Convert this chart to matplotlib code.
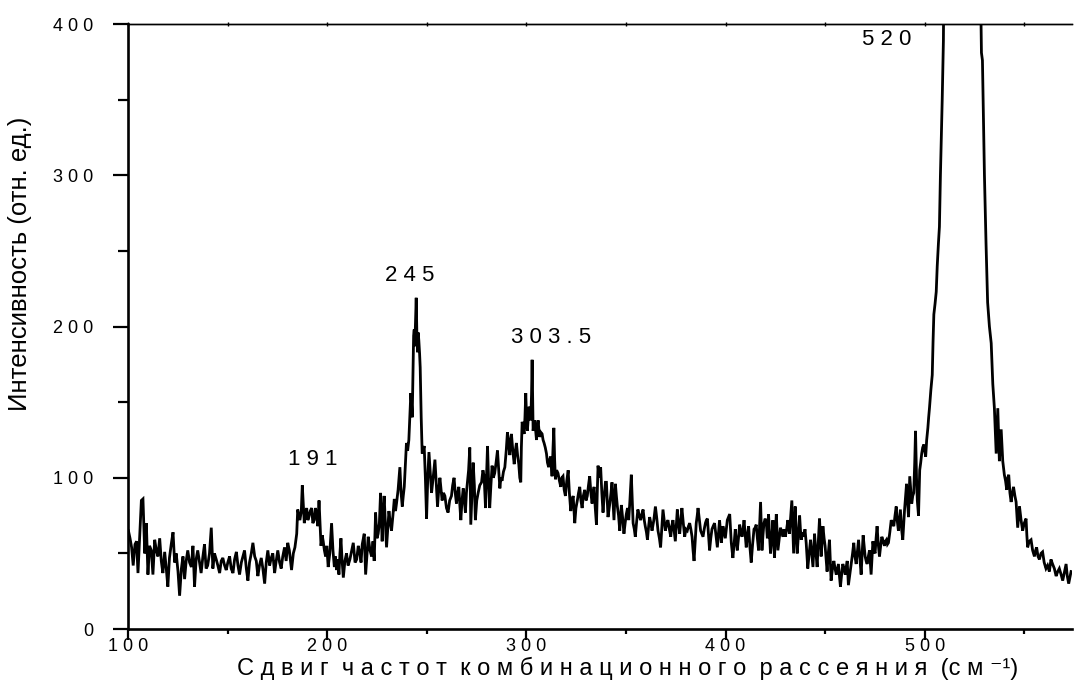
import matplotlib
matplotlib.use("Agg")
import matplotlib.pyplot as plt
from matplotlib.ticker import MultipleLocator, FuncFormatter, NullFormatter

# Raman shift (cm^-1) and intensity
shift = [
    100.2, 101.0, 101.8, 102.6, 103.5, 104.3, 105.0, 105.8, 106.7, 107.5,
    108.4, 109.2, 110.0, 110.8, 111.7, 112.5, 113.4, 114.2, 115.0, 115.9,
    116.7, 117.5, 118.4, 119.2, 120.0, 120.8, 121.7, 122.6, 123.4, 124.2,
    125.1, 125.9, 126.8, 127.6, 128.4, 129.2, 130.0, 130.9, 131.8, 132.6,
    133.4, 134.2, 135.0, 135.9, 136.7, 137.6, 138.4, 139.2, 140.0, 140.9,
    141.8, 142.6, 143.4, 144.3, 145.1, 146.0, 146.8, 147.6, 148.5, 149.3,
    150.1, 151.0, 151.8, 152.7, 153.5, 154.4, 155.2, 156.0, 156.9, 157.7,
    158.5, 159.4, 160.2, 161.0, 161.9, 162.7, 163.6, 164.4, 165.2, 166.0,
    166.9, 167.7, 168.6, 169.4, 170.2, 171.1, 171.9, 172.7, 173.6, 174.4,
    175.2, 176.1, 176.9, 177.7, 178.6, 179.4, 180.2, 181.0, 182.1, 183.0,
    183.8, 184.7, 185.2, 186.3, 187.0, 187.5, 188.5, 189.1, 189.7, 190.3,
    190.8, 191.5, 192.2, 192.8, 193.5, 194.1, 194.7, 195.3, 195.9, 196.4,
    196.9, 197.5, 198.0, 198.6, 199.2, 199.8, 200.5, 201.3, 202.2, 202.9,
    203.6, 204.1, 204.7, 205.3, 205.9, 206.4, 206.9, 207.5, 208.1, 208.9,
    209.7, 210.5, 211.4, 212.3, 213.1, 214.0, 214.8, 215.6, 216.4, 217.0,
    217.6, 218.6, 219.3, 220.0, 220.6, 221.5, 222.3, 223.0, 223.6, 224.3,
    225.0, 225.6, 226.2, 226.8, 227.6, 228.0, 228.6, 229.2, 229.8, 230.4,
    231.0, 231.7, 232.3, 233.0, 233.7, 234.3, 234.8, 235.6, 236.5, 237.1,
    237.7, 238.2, 238.7, 239.3, 239.8, 240.4, 241.0, 241.5, 242.0, 242.4,
    242.7, 243.1, 243.4, 243.7, 244.0, 244.4, 244.7, 245.1, 245.4, 245.7,
    246.0, 246.4, 246.7, 247.2, 247.7, 248.2, 248.7, 249.3, 249.9, 250.5,
    251.1, 251.7, 252.4, 253.2, 254.1, 254.8, 255.4, 256.0, 256.6, 257.2,
    257.7, 258.4, 259.1, 259.9, 260.7, 261.5, 262.4, 263.0, 263.7, 264.3,
    264.9, 265.5, 266.1, 266.6, 267.1, 267.7, 268.3, 268.9, 269.4, 269.9,
    270.4, 271.0, 271.6, 272.1, 272.7, 273.3, 273.9, 274.4, 275.1, 275.8,
    276.6, 277.5, 278.2, 278.8, 279.5, 280.0, 280.5, 281.0, 281.6, 282.2,
    282.8, 283.4, 284.1, 284.8, 285.5, 286.1, 286.7, 287.2, 287.8, 288.5,
    289.2, 289.9, 290.5, 291.1, 291.7, 292.1, 292.5, 293.2, 293.9, 294.5,
    295.0, 295.6, 296.2, 296.7, 297.2, 297.5, 297.9, 298.4, 298.9, 299.3,
    299.7, 300.1, 300.5, 301.0, 301.4, 301.8, 302.2, 302.6, 302.9, 303.2,
    303.4, 303.8, 304.2, 304.6, 305.1, 305.5, 305.9, 306.3, 306.7, 307.3,
    307.9, 308.4, 308.9, 309.5, 310.1, 310.6, 311.2, 311.7, 312.2, 312.9,
    313.4, 313.8, 314.2, 314.6, 315.2, 315.9, 316.6, 317.3, 317.8, 318.4,
    319.0, 319.6, 320.3, 321.0, 321.6, 322.3, 322.9, 323.5, 324.3, 324.9,
    325.6, 326.2, 326.8, 327.4, 328.0, 328.6, 329.3, 330.0, 330.6, 331.2,
    331.8, 332.4, 333.0, 333.5, 334.0, 334.6, 335.2, 335.6, 336.0, 336.6,
    337.3, 337.9, 338.5, 339.1, 339.7, 340.2, 341.0, 341.9, 342.5, 343.0,
    343.5, 344.0, 344.7, 345.2, 345.7, 346.3, 346.9, 347.7, 348.3, 349.0,
    349.6, 350.2, 350.8, 351.4, 352.0, 352.7, 353.2, 353.6, 354.2, 354.7,
    355.3, 356.0, 356.7, 357.4, 358.0, 358.6, 359.2, 359.7, 360.3, 360.8,
    361.4, 361.9, 362.5, 363.1, 364.0, 364.8, 365.5, 366.1, 366.8, 367.4,
    368.0, 368.6, 369.2, 369.8, 370.5, 371.1, 371.8, 372.5, 373.0, 373.6,
    374.2, 374.8, 375.3, 375.8, 376.4, 377.0, 377.6, 378.1, 378.8, 379.5,
    380.1, 380.8, 381.4, 382.0, 382.6, 383.2, 383.7, 384.2, 384.8, 385.3,
    385.8, 386.2, 386.9, 387.5, 388.1, 388.7, 389.3, 389.9, 390.4, 390.9,
    391.5, 392.0, 392.6, 393.2, 393.8, 394.5, 395.2, 395.9, 396.5, 397.0,
    397.5, 397.9, 398.3, 398.7, 399.3, 399.9, 400.4, 400.9, 401.5, 402.1,
    402.5, 402.9, 403.3, 403.7, 404.3, 404.9, 405.4, 405.9, 406.5, 407.1,
    407.7, 408.3, 408.8, 409.3, 409.9, 410.4, 411.0, 411.6, 412.2, 412.9,
    413.6, 414.3, 414.9, 415.4, 416.0, 416.6, 417.1, 417.6, 418.0, 418.3,
    418.8, 419.3, 419.9, 420.5, 421.0, 421.6, 422.1, 422.6, 423.2, 423.8,
    424.2, 424.6, 425.0, 425.5, 425.9, 426.3, 427.0, 427.6, 428.2, 428.8,
    429.4, 430.0, 430.7, 431.3, 431.7, 432.1, 432.7, 433.3, 433.8, 434.2,
    434.6, 435.0, 435.5, 436.0, 436.6, 437.2, 437.6, 438.0, 438.7, 439.3,
    439.9, 440.5, 440.9, 441.3, 442.0, 442.7, 443.3, 443.9, 444.3, 444.7,
    445.3, 446.0, 446.6, 447.2, 447.6, 448.0, 448.5, 448.9, 449.5, 450.0,
    450.5, 451.0, 451.6, 452.2, 452.6, 453.0, 453.7, 454.4, 455.0, 455.6,
    456.2, 456.7, 457.2, 457.7, 458.3, 458.9, 459.5, 460.1, 460.6, 461.1,
    461.7, 462.4, 463.1, 463.8, 464.4, 465.0, 465.6, 466.2, 466.8, 467.5,
    468.1, 468.6, 469.1, 469.6, 470.1, 470.6, 471.1, 471.7, 472.3, 472.7,
    473.1, 473.6, 474.0, 474.6, 475.1, 475.6, 476.1, 476.7, 477.3, 477.9,
    478.5, 479.2, 479.8, 480.3, 480.8, 481.3, 481.8, 482.5, 483.2, 483.8,
    484.5, 485.1, 485.7, 486.2, 486.8, 487.3, 487.8, 488.4, 489.0, 489.5,
    489.9, 490.4, 490.9, 491.4, 491.9, 492.2, 492.5, 493.0, 493.5, 494.0,
    494.5, 495.0, 495.4, 495.9, 496.3, 496.9, 497.5, 498.0, 498.5, 499.0,
    499.6, 500.0, 500.5, 501.0, 501.6, 502.0, 502.4, 503.1, 503.8, 504.2,
    504.6, 505.2, 505.8, 506.3, 506.9, 507.4, 507.9, 508.3, 508.8, 509.4,
    510.5, 512.0, 514.0, 516.0, 518.0, 519.5, 521.0, 523.0, 525.0, 527.0,
    528.3, 528.5, 529.0, 529.5, 530.0, 530.8, 531.6, 532.5, 533.4, 534.2,
    535.0, 535.9, 536.7, 537.5, 538.4, 539.2, 540.0, 540.6, 541.2, 541.7,
    542.2, 542.8, 543.4, 544.0, 544.6, 545.3, 545.9, 546.3, 546.7, 547.2,
    547.6, 548.4, 549.2, 550.0, 550.9, 551.3, 551.7, 552.5, 553.4, 554.2,
    555.1, 555.7, 556.2, 556.9, 557.6, 558.4, 559.2, 560.0, 560.9, 561.7,
    562.6, 563.4, 564.2, 565.1, 566.0, 566.8, 567.6, 568.5, 569.3, 570.2,
    571.0, 571.6, 572.3, 572.9, 573.5,
]

intensity = [
    65, 60, 54, 42, 56, 58, 37, 60, 85, 86,
    50, 70, 36, 55, 52, 36, 59, 52, 48, 60,
    45, 37, 51, 40, 28, 47, 56, 64, 44, 50,
    38, 22, 40, 48, 33, 45, 52, 44, 41, 55,
    28, 46, 52, 44, 37, 48, 56, 40, 42, 50,
    67, 40, 50, 46, 42, 37, 45, 47, 42, 39,
    44, 48, 40, 37, 46, 51, 42, 36, 44, 48,
    52, 40, 32, 44, 50, 57, 48, 45, 35, 42,
    47, 40, 30, 44, 52, 42, 47, 50, 37, 45,
    52, 44, 40, 48, 54, 45, 57, 52, 39, 50,
    54, 63, 79, 72, 78, 95, 70, 76, 80, 72,
    74, 78, 80, 70, 72, 80, 76, 68, 85, 70,
    55, 62, 58, 52, 48, 55, 41, 50, 70, 52,
    41, 48, 39, 46, 36, 50, 60, 45, 34, 45,
    50, 42, 46, 52, 57, 44, 46, 55, 50, 44,
    56, 63, 36, 50, 61, 52, 48, 58, 45, 77,
    60, 63, 70, 90, 58, 75, 88, 70, 54, 66,
    78, 70, 65, 75, 86, 78, 83, 92, 107, 90,
    81, 88, 94, 110, 123, 118, 125, 140, 156, 148,
    140, 170, 194, 198, 187, 205, 219, 190, 183, 196,
    191, 182, 173, 140, 116, 118, 121, 100, 73, 100,
    117, 105, 90, 100, 112, 95, 81, 92, 100, 92,
    85, 90, 88, 80, 77, 85, 88, 95, 100, 90,
    83, 90, 94, 82, 72, 85, 93, 84, 77, 90,
    97, 105, 120, 69, 90, 110, 95, 72, 85, 90,
    95, 97, 105, 101, 80, 100, 121, 100, 80, 95,
    108, 100, 103, 110, 118, 105, 93, 100, 98, 104,
    107, 118, 130, 122, 115, 125, 129, 118, 109, 118,
    123, 115, 109, 100, 97, 120, 137, 132, 129, 140,
    156, 140, 131, 140, 147, 142, 138, 155, 178, 150,
    131, 136, 138, 132, 125, 133, 138, 132, 127, 130,
    129, 125, 123, 120, 116, 110, 107, 112, 114, 101,
    120, 133, 112, 99, 105, 103, 98, 94, 100, 101,
    92, 88, 98, 105, 90, 78, 85, 88, 70, 80,
    85, 90, 94, 85, 80, 88, 92, 85, 88, 95,
    101, 90, 83, 90, 94, 80, 69, 90, 108, 100,
    107, 90, 77, 88, 97, 97, 74, 83, 90, 97,
    85, 72, 96, 88, 81, 75, 65, 82, 74, 63,
    70, 76, 80, 72, 85, 102, 85, 70, 66, 61,
    70, 79, 75, 72, 76, 79, 72, 68, 64, 59,
    68, 74, 70, 65, 72, 81, 73, 65, 60, 54,
    66, 79, 72, 65, 70, 72, 66, 61, 68, 72,
    65, 58, 68, 79, 70, 63, 72, 80, 70, 61,
    66, 65, 68, 70, 66, 61, 52, 45, 58, 70,
    75, 80, 72, 65, 63, 61, 66, 70, 72, 73,
    62, 52, 60, 66, 68, 70, 62, 54, 64, 72,
    64, 57, 62, 68, 64, 60, 66, 72, 74, 76,
    66, 57, 52, 47, 56, 66, 58, 52, 60, 69,
    64, 61, 66, 72, 62, 54, 62, 68, 55, 44,
    56, 66, 67, 69, 60, 52, 68, 84, 65, 52,
    62, 70, 73, 70, 60, 76, 62, 50, 60, 72,
    58, 47, 62, 76, 64, 52, 60, 67, 64, 61,
    66, 61, 66, 72, 68, 63, 74, 85, 65, 50,
    66, 81, 64, 50, 62, 75, 66, 59, 64, 61,
    66, 57, 48, 40, 50, 59, 50, 41, 52, 63,
    52, 41, 58, 73, 60, 48, 58, 68, 60, 55,
    46, 38, 50, 59, 45, 32, 40, 45, 40, 36,
    40, 43, 35, 28, 36, 43, 40, 36, 41, 45,
    29, 36, 43, 50, 57, 48, 43, 51, 59, 46,
    36, 50, 62, 55, 48, 45, 43, 48, 52, 44,
    36, 48, 58, 52, 50, 60, 68, 56, 48, 55,
    61, 58, 55, 58, 59, 56, 57, 64, 72, 70,
    68, 75, 81, 72, 65, 72, 79, 66, 59, 70,
    79, 88, 96, 84, 74, 88, 101, 92, 83, 88,
    90, 110, 131, 100, 85, 75, 105, 110, 116, 120,
    122, 118, 114, 125, 133, 140, 146, 158, 168, 190,
    208, 215, 223, 240, 255, 266, 300, 321, 350, 389,
    600, 900, 1150, 1320, 1400, 1420, 1380, 1200, 950, 650,
    400, 381, 376, 340, 300, 255, 216, 200, 189, 162,
    146, 116, 146, 111, 132, 111, 102, 98, 92, 100,
    102, 90, 84, 90, 94, 88, 84, 75, 67, 75,
    81, 72, 65, 70, 73, 62, 54, 58, 59, 52,
    48, 52, 54, 48, 46, 50, 51, 44, 40, 42,
    38, 46, 43, 40, 35, 38, 40, 36, 32, 38,
    43, 35, 30, 34, 38,
]

# peak annotations (text, where the label sits in data units)
peak_labels = ["1 9 1", "2 4 5", "3 0 3 . 5", "5 2 0"]
peak_x = [193, 241.5, 312.5, 481]
peak_y = [105, 227, 186, 383]

FONT = ["Liberation Sans", "DejaVu Sans"]


def spaced(text, sep=" "):
    return sep.join(text)


def main():
    plt.rcParams["font.family"] = FONT

    fig = plt.figure(figsize=(10.74, 6.91), dpi=100)
    ax = fig.add_axes([0.1192, 0.0897, 0.8790, 0.8755])

    ax.plot(shift, intensity, color="black", linewidth=2.0, solid_joinstyle="miter")

    ax.set_xlim(100, 574)
    ax.set_ylim(0, 400)

    ax.xaxis.set_major_locator(MultipleLocator(100))
    ax.xaxis.set_minor_locator(MultipleLocator(50))
    ax.yaxis.set_major_locator(MultipleLocator(100))
    ax.yaxis.set_minor_locator(MultipleLocator(50))
    fmt = FuncFormatter(lambda v, p: spaced(f"{v:.0f}"))
    ax.xaxis.set_major_formatter(fmt)
    ax.yaxis.set_major_formatter(fmt)

    ax.spines["right"].set_visible(False)
    ax.spines["left"].set_linewidth(1.9)
    ax.spines["bottom"].set_linewidth(1.9)
    ax.spines["top"].set_linewidth(1.0)

    ax.tick_params(axis="y", which="major", direction="out", length=11, width=1.6,
                   labelsize=13, pad=14)
    ax.tick_params(axis="y", which="minor", direction="out", length=7, width=1.6)
    ax.tick_params(axis="x", which="major", direction="out", length=8, width=1.6,
                   labelsize=13, pad=-1.5)
    ax.tick_params(axis="x", which="minor", direction="out", length=3.5, width=1.6)

    # tiny marks along the top frame line
    top = ax.secondary_xaxis("top")
    top.xaxis.set_major_locator(MultipleLocator(50))
    top.xaxis.set_major_formatter(NullFormatter())
    top.tick_params(direction="inout", length=3, width=1.0)
    top.spines["top"].set_linewidth(1.0)

    for lab, x, y in zip(peak_labels, peak_x, peak_y):
        ax.text(x, y, lab, fontsize=16, ha="center", va="bottom")

    xlabel = ("  ".join(spaced(w) for w in ["Сдвиг", "частот", "комбинационного", "рассеяния"])
              + "  (" + spaced("см") + " \u207b\u00b9)")
    ax.set_xlabel(xlabel, fontsize=17, va="top")
    ax.xaxis.set_label_coords(0.529, -0.046)
    ax.set_ylabel("Интенсивность (отн. ед.)", fontsize=18.5, va="center")
    ax.yaxis.set_label_coords(-0.114, 0.603)

    fig.savefig("out.png", dpi=100)
    plt.close(fig)


if __name__ == "__main__":
    main()
